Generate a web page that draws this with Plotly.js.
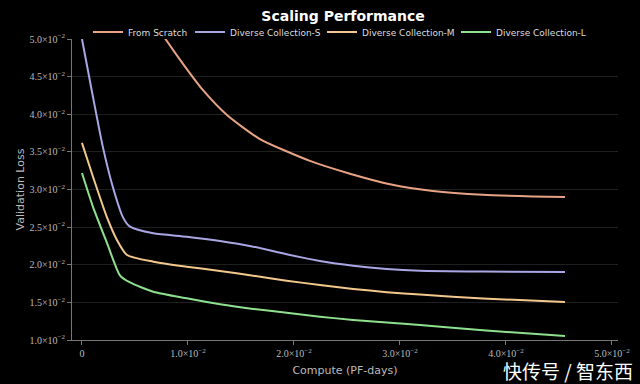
<!DOCTYPE html>
<html>
<head>
<meta charset="utf-8">
<script src="https://cdn.plot.ly/plotly-3.0.1.min.js"></script>
<style>html,body{margin:0;padding:0;background:#000;}#chart{width:640px;height:384px;}</style>
</head>
<body>
<div id="chart"></div>
<script>
const seriesNames = ["From Scratch", "Diverse Collection-S", "Diverse Collection-M", "Diverse Collection-L"];
const seriesColors = ["#e8a385", "#a9a7e3", "#f3c88c", "#8fe08f"];

const scratchX = [0.00708, 0.00783, 0.00953, 0.01142, 0.01368, 0.01679, 0.02151, 0.02528, 0.02906, 0.03311, 0.03783, 0.04557];
const scratchY = [0.0517, 0.0501, 0.0467, 0.0432, 0.0399, 0.0367, 0.0338, 0.0321, 0.0307, 0.0298, 0.0293, 0.0290];

const smallX = [0.0, 0.00104, 0.00198, 0.00292, 0.00387, 0.00453, 0.00673, 0.00988, 0.01302, 0.01616, 0.01931, 0.02245, 0.02559, 0.02875, 0.03189, 0.03783, 0.04557];
const smallY = [0.0500, 0.0423, 0.0356, 0.0303, 0.0263, 0.02506, 0.02418, 0.02373, 0.02316, 0.0224, 0.02139, 0.0205, 0.01987, 0.01944, 0.01921, 0.0191, 0.01904];

const mediumX = [0.0, 0.00104, 0.00236, 0.0033, 0.00425, 0.00673, 0.00988, 0.01302, 0.01616, 0.01931, 0.02245, 0.02559, 0.02875, 0.03189, 0.03783, 0.04557];
const mediumY = [0.0362, 0.0317, 0.0263, 0.0233, 0.0213, 0.02041, 0.01974, 0.01917, 0.01854, 0.01788, 0.01731, 0.01678, 0.01636, 0.01603, 0.01552, 0.01505];

const largeX = [0.0, 0.00104, 0.00236, 0.00358, 0.00453, 0.00673, 0.00988, 0.01302, 0.01616, 0.01931, 0.02245, 0.02559, 0.02875, 0.03189, 0.03783, 0.04557];
const largeY = [0.0322, 0.0277, 0.0229, 0.0186, 0.01765, 0.01642, 0.01554, 0.01474, 0.01412, 0.01363, 0.0131, 0.01266, 0.01232, 0.01200, 0.01128, 0.01053];

const yTickVals = [0.010, 0.015, 0.020, 0.025, 0.030, 0.035, 0.040, 0.045, 0.050];
const yTickText = ["1.0×10<sup>−2</sup>", "1.5×10<sup>−2</sup>", "2.0×10<sup>−2</sup>", "2.5×10<sup>−2</sup>", "3.0×10<sup>−2</sup>", "3.5×10<sup>−2</sup>", "4.0×10<sup>−2</sup>", "4.5×10<sup>−2</sup>", "5.0×10<sup>−2</sup>"];
const xTickVals = [0, 0.01, 0.02, 0.03, 0.04, 0.05];
const xTickText = ["0", "1.0×10<sup>−2</sup>", "2.0×10<sup>−2</sup>", "3.0×10<sup>−2</sup>", "4.0×10<sup>−2</sup>", "5.0×10<sup>−2</sup>"];

const xs = [scratchX, smallX, mediumX, largeX];
const ys = [scratchY, smallY, mediumY, largeY];
const legendIds = ["legend", "legend2", "legend3", "legend4"];
const legendXs = [0.0293, 0.2161, 0.4579, 0.7033];

const traces = seriesNames.map((n, i) => ({
  x: xs[i], y: ys[i], name: n, type: "scatter", mode: "lines", legend: legendIds[i],
  line: {color: seriesColors[i], width: 2, shape: "spline", smoothing: 0.6}
}));

const tickFont = {family: "Liberation Serif, DejaVu Serif, serif", size: 10, color: "#bbbbbb"};
const legendFont = {family: "DejaVu Sans, sans-serif", size: 9, color: "#dddddd"};

const layout = {
  width: 640, height: 384,
  paper_bgcolor: "#000000", plot_bgcolor: "#000000",
  margin: {l: 72, r: 22, t: 39, b: 44},
  title: {text: "<b>Scaling Performance</b>", x: 0.536, xanchor: "center", y: 0.97, yanchor: "top",
          font: {family: "DejaVu Sans, sans-serif", size: 14, color: "#ffffff"}},
  showlegend: true,
  xaxis: {
    range: [-0.00094, 0.05057], tickvals: xTickVals, ticktext: xTickText,
    showgrid: false, zeroline: false, showline: true, linecolor: "#777777", linewidth: 1,
    ticks: "outside", ticklen: 4, tickcolor: "#777777", tickfont: tickFont,
    title: {text: "Compute (PF-days)", font: {family: "DejaVu Sans, sans-serif", size: 11, color: "#bbbbbb"}, standoff: 8}
  },
  yaxis: {
    range: [0.01, 0.05], tickvals: yTickVals, ticktext: yTickText,
    showgrid: true, gridcolor: "#1f1f1f", gridwidth: 1, zeroline: false,
    showline: true, linecolor: "#777777", linewidth: 1,
    ticks: "outside", ticklen: 4, tickcolor: "#777777", tickfont: tickFont,
    title: {text: "Validation Loss", font: {family: "DejaVu Sans, sans-serif", size: 11, color: "#bbbbbb"}, standoff: 2}
  },
  annotations: [{
    text: "快传号 / 智东西", xref: "paper", yref: "paper", x: 1.031, xanchor: "right", y: -0.1, yanchor: "middle",
    showarrow: false, font: {family: "Noto Sans CJK SC, sans-serif", size: 19, color: "#ffffff"}
  }]
};
legendIds.forEach((id, i) => {
  layout[id] = {orientation: "h", x: legendXs[i], xanchor: "left", y: 1.023, yanchor: "middle",
                font: legendFont, bgcolor: "rgba(0,0,0,0)", borderwidth: 0, itemwidth: 30};
});

Plotly.newPlot("chart", traces, layout, {displayModeBar: false, staticPlot: true});
</script>
</body>
</html>
